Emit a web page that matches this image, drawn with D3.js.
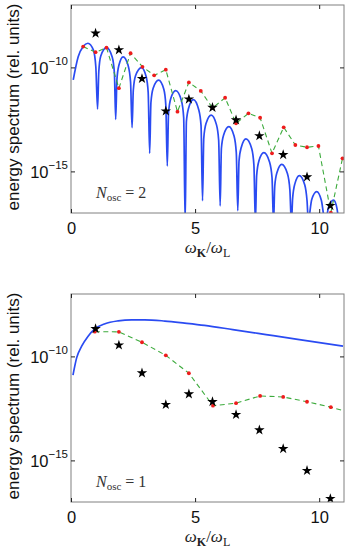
<!DOCTYPE html>
<html>
<head>
<meta charset="utf-8">
<script src="https://cdn.jsdelivr.net/npm/d3@7"></script>
<style>
  body { margin: 0; background: #fff; }
  svg { display: block; }
</style>
</head>
<body>
<div id="chart"></div>
<script>
// axis ticks
var xTicks = [0, 5, 10];
var yTickExps = [-10, -15];

// black stars (same frequencies in both panels)
var starX = [0.99, 1.93, 2.86, 3.82, 4.75, 5.70, 6.65, 7.59, 8.55, 9.51, 10.45];
var topStarExp = [-8.36, -9.16, -10.54, -12.10, -11.53, -11.93, -12.53, -13.29, -14.20, -15.27, -16.65];
var botStarExp = [-8.67, -9.46, -10.80, -12.32, -11.81, -12.18, -12.80, -13.54, -14.44, -15.49, -16.84];

// green dashed line with red dots
var topGreenX = [0.49, 0.99, 1.43, 1.93, 2.40, 2.88, 3.35, 3.82, 4.29, 4.75, 5.23, 5.70,
                 6.21, 6.65, 7.15, 7.62, 8.10, 8.57, 9.04, 9.51, 9.97, 10.47, 10.94];
var topGreenExp = [-9.00, -9.27, -9.05, -11.00, -9.32, -9.97, -10.38, -10.11, -12.13, -10.72, -11.13, -11.95,
                   -11.46, -12.69, -12.21, -12.42, -14.13, -12.88, -13.73, -13.84, -13.78, -16.98, -14.37];
var botGreenX = [0.96, 1.93, 2.86, 3.82, 4.75, 5.72, 6.65, 7.62, 8.55, 9.51, 10.47, 11.40];
var botGreenExp = [-8.81, -8.82, -9.32, -9.95, -10.81, -12.37, -12.25, -11.90, -11.95, -12.18, -12.44, -12.75];

// blue curve, N_osc = 2 : [omega, log10 spectrum]
var topBlue = [
  [0.09, -10.60], [0.29, -9.49], [0.49, -9.00], [0.68, -8.84], [0.90, -9.16], [1.00, -9.97], [1.07, -12.00],
  [1.12, -10.20], [1.20, -9.45], [1.43, -9.05], [1.66, -9.50], [1.75, -10.30], [1.80, -12.50],
  [1.85, -10.60], [1.93, -9.90], [2.10, -9.49], [2.30, -9.90], [2.40, -10.70], [2.46, -12.90],
  [2.51, -11.10], [2.60, -10.40], [2.84, -10.01], [3.03, -10.45], [3.11, -11.20], [3.17, -14.13],
  [3.22, -11.70], [3.31, -11.00], [3.53, -10.61], [3.74, -11.05], [3.82, -11.80], [3.88, -14.74],
  [3.93, -12.20], [4.02, -11.50], [4.22, -11.12], [4.45, -11.60], [4.54, -12.40], [4.60, -17.50],
  [4.65, -12.60], [4.74, -11.95], [4.93, -11.55], [5.15, -12.05], [5.24, -12.80], [5.30, -16.41],
  [5.35, -13.40], [5.44, -12.70], [5.65, -12.29], [5.86, -12.75], [5.95, -13.50], [6.01, -16.66],
  [6.06, -13.90], [6.15, -13.25], [6.36, -12.85], [6.57, -13.30], [6.66, -14.10], [6.72, -16.89],
  [6.77, -14.50], [6.86, -13.85], [7.05, -13.44], [7.28, -13.90], [7.37, -14.70], [7.43, -17.50],
  [7.48, -15.20], [7.57, -14.50], [7.77, -14.10], [8.00, -14.55], [8.10, -15.30], [8.16, -17.50],
  [8.21, -15.70], [8.30, -15.05], [8.49, -14.66], [8.72, -15.10], [8.82, -15.90], [8.88, -17.50],
  [8.93, -16.30], [9.02, -15.60], [9.20, -15.20], [9.42, -15.65], [9.51, -16.40], [9.57, -17.50],
  [9.62, -17.00], [9.70, -16.35], [9.90, -15.97], [10.09, -16.40], [10.18, -17.10], [10.24, -17.50],
  [10.29, -17.30], [10.37, -16.75], [10.58, -16.38], [10.72, -16.80], [10.78, -17.30], [10.83, -17.50]
];

// blue curve, N_osc = 1
var botBlue = [
  [0.08, -10.90], [0.23, -10.06], [0.43, -9.51], [0.69, -9.03], [0.96, -8.68], [1.37, -8.43],
  [1.90, -8.29], [2.44, -8.24], [2.97, -8.24], [3.78, -8.30], [4.58, -8.40], [5.38, -8.51],
  [6.52, -8.71], [7.86, -8.95], [9.20, -9.19], [10.96, -9.51]
];

var W = 354, H = 550;
var left = 71, right = 344;
var blue = "#2a4bf2", green = "#3dab3d", red = "#ee1c1c", frame = "#808080";
var sans = "'Liberation Sans', Arial, sans-serif";
var serif = "'Liberation Serif', 'DejaVu Serif', serif";

var svg = d3.select("#chart").append("svg")
    .attr("width", W)
    .attr("height", H);

var x = d3.scaleLinear().domain([0, 11]).range([left, right]);

function p10(e) { return Math.pow(10, e); }

function panel(id, top, bottom, blueData, greenX, greenExp, starExp, nosc) {
  var y = d3.scaleLog().domain([1e-17, 1e-7]).range([bottom, top]);
  var g = svg.append("g");

  g.append("clipPath").attr("id", "clip" + id)
    .append("rect")
      .attr("x", left).attr("y", top)
      .attr("width", right - left).attr("height", bottom - top);

  var plot = g.append("g").attr("clip-path", "url(#clip" + id + ")");

  var blueLine = d3.line()
      .curve(d3.curveMonotoneX)
      .x(function(d) { return x(d[0]); })
      .y(function(d) { return y(p10(d[1])); });

  plot.append("path")
      .datum(blueData)
      .attr("fill", "none")
      .attr("stroke", blue)
      .attr("stroke-width", 1.7)
      .attr("stroke-linejoin", "round")
      .attr("d", blueLine);

  var gdata = greenX.map(function(v, i) { return [v, greenExp[i]]; });

  plot.append("path")
      .datum(gdata)
      .attr("fill", "none")
      .attr("stroke", green)
      .attr("stroke-width", 1.1)
      .attr("stroke-dasharray", "5,3.5")
      .attr("d", d3.line()
        .x(function(d) { return x(d[0]); })
        .y(function(d) { return y(p10(d[1])); }));

  plot.selectAll("circle.dot")
      .data(gdata)
    .enter().append("circle")
      .attr("class", "dot")
      .attr("cx", function(d) { return x(d[0]); })
      .attr("cy", function(d) { return y(p10(d[1])); })
      .attr("r", 1.9)
      .attr("fill", red);

  var sdata = starX.map(function(v, i) { return [v, starExp[i]]; });
  plot.selectAll("path.star")
      .data(sdata)
    .enter().append("path")
      .attr("class", "star")
      .attr("d", d3.symbol().type(d3.symbolStar).size(34))
      .attr("transform", function(d) {
        return "translate(" + x(d[0]) + "," + y(p10(d[1])) + ")";
      })
      .attr("fill", "#000");

  // frame
  g.append("rect")
      .attr("x", left).attr("y", top)
      .attr("width", right - left).attr("height", bottom - top)
      .attr("fill", "none")
      .attr("stroke", frame)
      .attr("stroke-width", 1);

  // axes, ticks inward
  var ax = g.append("g")
      .attr("transform", "translate(0," + bottom + ")")
      .call(d3.axisBottom(x).tickValues(xTicks).tickSize(-4).tickPadding(9.5));
  ax.select(".domain").remove();
  ax.selectAll("line").attr("stroke", "#222");
  ax.selectAll("text").attr("font-family", sans).attr("font-size", 16.5).attr("fill", "#111");

  var axTop = g.append("g")
      .attr("transform", "translate(0," + top + ")")
      .call(d3.axisTop(x).tickValues(xTicks).tickSize(-4).tickFormat(""));
  axTop.select(".domain").remove();
  axTop.selectAll("line").attr("stroke", "#222");

  var yVals = yTickExps.map(p10);
  var ay = g.append("g")
      .attr("transform", "translate(" + left + ",0)")
      .call(d3.axisLeft(y).tickValues(yVals).tickSize(-4).tickFormat(""));
  ay.select(".domain").remove();
  ay.selectAll("line").attr("stroke", "#222");

  var ayR = g.append("g")
      .attr("transform", "translate(" + right + ",0)")
      .call(d3.axisRight(y).tickValues(yVals).tickSize(-4).tickFormat(""));
  ayR.select(".domain").remove();
  ayR.selectAll("line").attr("stroke", "#222");

  yTickExps.forEach(function(e) {
    var t = g.append("text")
        .attr("x", left - 3)
        .attr("y", y(p10(e)) + 6.5)
        .attr("text-anchor", "end")
        .attr("font-family", sans)
        .attr("font-size", 16.5)
        .attr("fill", "#111");
    t.append("tspan").text("10");
    t.append("tspan").attr("dy", -9).attr("font-size", 11.5).text("\u2212" + (-e));
  });

  // y label
  g.append("text")
      .attr("transform", "translate(19," + ((top + bottom) / 2 - 2) + ") rotate(-90)")
      .attr("text-anchor", "middle")
      .attr("font-family", sans)
      .attr("font-size", 17)
      .attr("fill", "#111")
      .text("energy spectrum (rel. units)");

  // x label
  var xl = g.append("text")
      .attr("x", 207.5)
      .attr("y", bottom + 40)
      .attr("text-anchor", "middle")
      .attr("font-family", serif)
      .attr("font-size", 17)
      .attr("fill", "#222");
  xl.append("tspan").attr("font-style", "italic").text("\u03c9");
  xl.append("tspan").attr("dy", 3.5).attr("font-size", 12).attr("font-weight", "bold").text("K");
  xl.append("tspan").attr("dy", -3.5).text("/");
  xl.append("tspan").attr("font-style", "italic").text("\u03c9");
  xl.append("tspan").attr("dy", 3.5).attr("font-size", 12).text("L");

  // N_osc label
  var nl = g.append("text")
      .attr("x", 96)
      .attr("y", bottom - 15)
      .attr("font-family", serif)
      .attr("font-size", 16)
      .attr("fill", "#333");
  nl.append("tspan").attr("font-style", "italic").text("N");
  nl.append("tspan").attr("dy", 3).attr("font-size", 11).text("osc");
  nl.append("tspan").attr("dy", -3).text(" = " + nosc);
}

panel(1, 5, 213, topBlue, topGreenX, topGreenExp, topStarExp, 2);
panel(2, 294, 502, botBlue, botGreenX, botGreenExp, botStarExp, 1);
</script>
</body>
</html>
